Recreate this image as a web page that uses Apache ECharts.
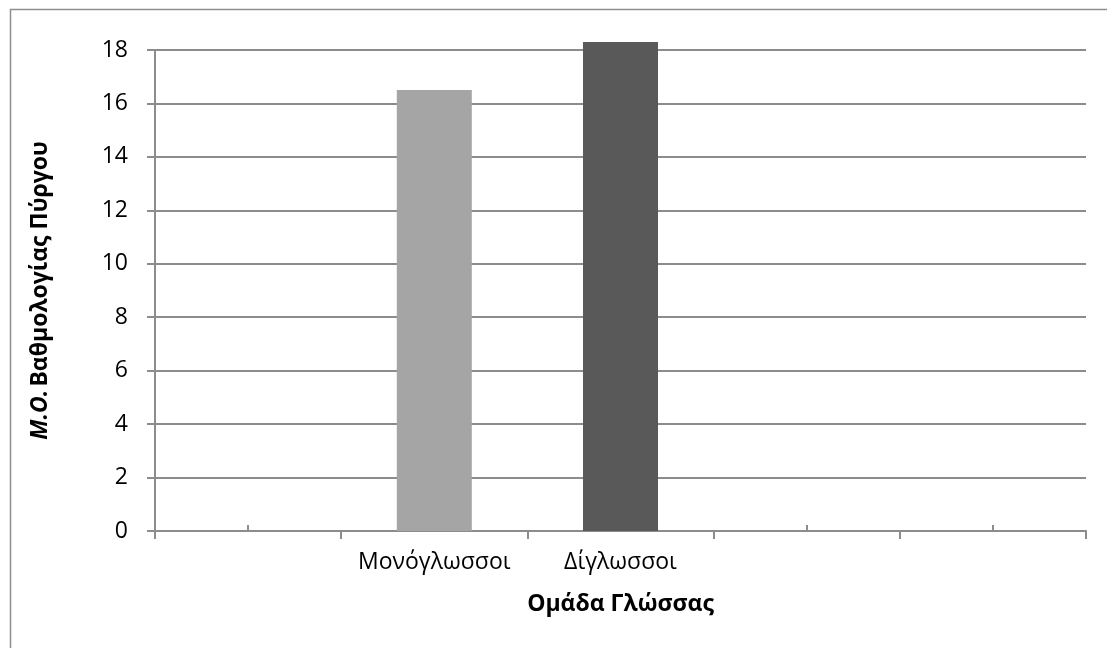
<!DOCTYPE html>
<html>
<head>
<meta charset="utf-8">
<script src="https://cdn.jsdelivr.net/npm/echarts@6/dist/echarts.min.js"></script>
<style>
  html, body { margin: 0; padding: 0; background: #fff; }
  #chart { width: 1107px; height: 648px; }
</style>
</head>
<body>
<div id="chart"></div>
<script>
// categories (empty slots are real, empty categories on the axis)
var categories = ['', 'Μονόγλωσσοι', 'Δίγλωσσοι', '', ''];
var scores = [null, 16.5, 18.3, null, null];
var barColors = ['#a5a5a5', '#a5a5a5', '#595959', '#595959', '#595959'];
var yTicks = { min: 0, max: 18, interval: 2 };

var FONT = '"Open Sans", "Noto Sans", sans-serif';
var GREY = '#8c8c8c';
var FS = 23;

var chart = echarts.init(document.getElementById('chart'));

var option = {
  animation: false,
  backgroundColor: '#fff',
  textStyle: { fontFamily: FONT },
  graphic: [{
    type: 'rect',
    left: 8, top: 7,
    shape: { width: 1200, height: 700 },
    style: { fill: 'none', stroke: '#8e8e8e', lineWidth: 1.5 },
    silent: true
  }],
  grid: { left: 155, right: 21, top: 50, bottom: 117 },
  xAxis: [{
    type: 'category',
    data: categories,
    name: 'Ομάδα Γλώσσας',
    nameLocation: 'middle',
    nameGap: 62,
    nameTextStyle: { fontFamily: FONT, fontSize: FS, fontWeight: 'bold', color: '#000' },
    axisLine: { lineStyle: { color: GREY, width: 2 } },
    axisTick: { show: true, inside: false, length: 8, lineStyle: { color: GREY, width: 2 } },
    axisLabel: { fontFamily: FONT, fontSize: FS, color: '#000', margin: 20, interval: 0 },
    splitLine: { show: false }
  }, {
    // inner ticks at the category centres
    type: 'category',
    data: categories,
    position: 'bottom',
    axisLine: { show: false },
    axisTick: { show: true, inside: true, alignWithLabel: true, length: 6, lineStyle: { color: GREY, width: 2 } },
    axisLabel: { show: false },
    splitLine: { show: false }
  }],
  yAxis: {
    type: 'value',
    min: yTicks.min,
    max: yTicks.max,
    interval: yTicks.interval,
    name: '{i|Μ.Ο.} {b|Βαθμολογίας Πύργου}',
    nameLocation: 'middle',
    nameRotate: 90,
    nameGap: 103,
    nameTextStyle: {
      rich: {
        i: { fontFamily: FONT, fontSize: FS, fontWeight: 'bold', fontStyle: 'italic', color: '#000' },
        b: { fontFamily: FONT, fontSize: FS, fontWeight: 'bold', color: '#000' }
      }
    },
    axisLine: { show: true, lineStyle: { color: GREY, width: 2 } },
    axisTick: { show: true, inside: false, length: 8, lineStyle: { color: GREY, width: 2 } },
    axisLabel: { fontFamily: FONT, fontSize: FS, color: '#000', margin: 27 },
    splitLine: { show: true, lineStyle: { color: GREY, width: 2 } }
  },
  series: [{
    type: 'bar',
    xAxisIndex: 0,
    clip: false,
    barWidth: 75,
    data: scores.map(function (v, i) {
      return { value: v, itemStyle: { color: barColors[i] } };
    })
  }]
};

chart.setOption(option);
</script>
</body>
</html>
